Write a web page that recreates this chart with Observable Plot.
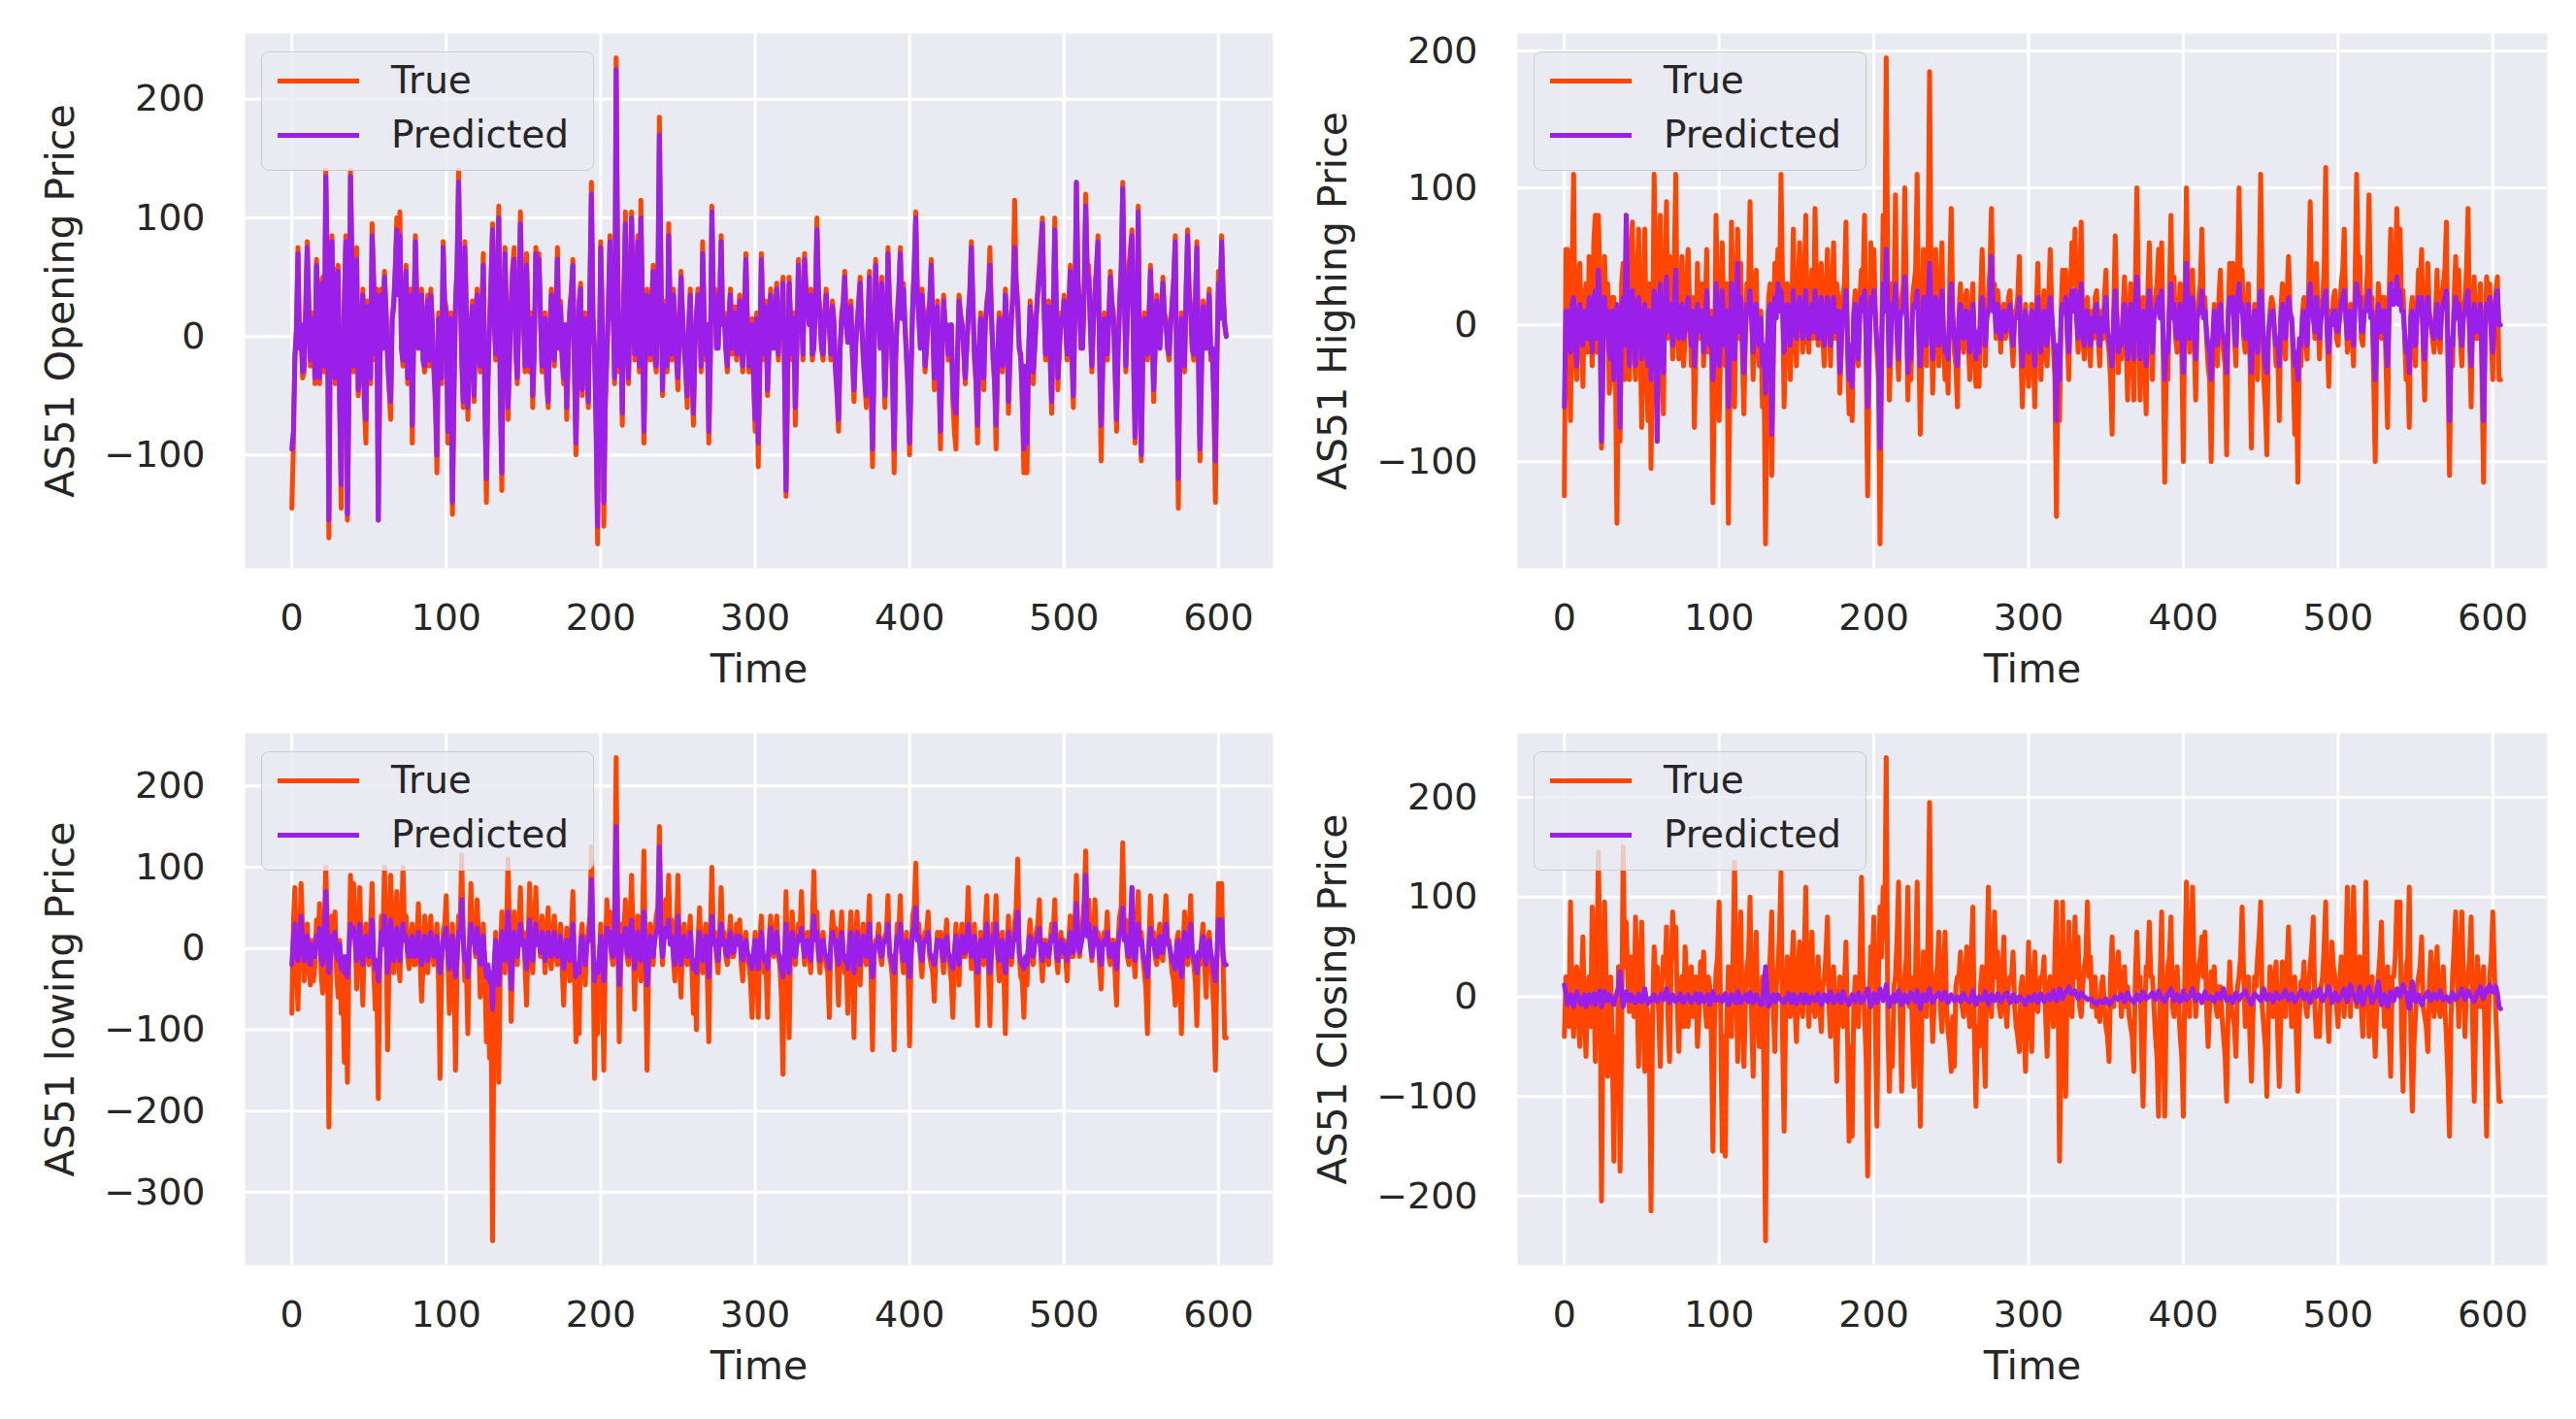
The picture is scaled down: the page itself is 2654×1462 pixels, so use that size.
<!DOCTYPE html>
<html>
<head>
<meta charset="utf-8">
<script src="https://cdn.jsdelivr.net/npm/d3@7"></script>
<script src="https://cdn.jsdelivr.net/npm/@observablehq/plot@0.6"></script>
<style>
  html, body { margin: 0; padding: 0; background: #ffffff; }
  #root { position: relative; width: 2654px; height: 1462px; overflow: hidden; font-family: "DejaVu Sans", sans-serif; }
  .panel { position: absolute; }
  .legend { position: absolute; box-sizing: border-box; width: 343px; height: 123px; border: 1.5px solid #cccccc; border-radius: 8px; background: rgba(234,234,242,0.8); }
  .legend .sw { position: absolute; left: 16px; width: 84px; height: 5px; }
  .legend .lt { position: absolute; left: 133px; font-size: 39px; line-height: 39px; color: #262626; white-space: nowrap; }
</style>
</head>
<body>
<div id="root"></div>
<script>
// ---------------- data ----------------
const TIME = d3.range(0, 606);            // time index 0..605
const X_TICKS = [0, 100, 200, 300, 400, 500, 600];
const SERIES_NAMES = ["True", "Predicted"];
const COLORS = ["#FF4500", "#9A1FE8"];

const OPEN_TRUE = [
-145,-95,-20,5,75,-10,10,-35,-30,25,80,30,-25,-15,20,-40,65,20,-40,45,
50,-30,140,60,-170,20,85,10,-40,55,60,-60,-145,-20,30,85,-155,-50,140,60,
-30,20,75,-50,-35,10,40,-60,-90,30,20,-40,95,50,-20,40,-155,-30,40,-10,
55,25,-20,-45,-70,15,30,60,100,40,105,-10,-25,30,60,-40,20,40,-90,10,
85,30,-10,20,40,-20,-30,15,35,-25,40,10,-30,-60,-115,20,10,-40,80,30,
25,-90,-40,20,-150,-50,30,60,140,45,-20,-60,80,25,-70,-20,10,30,-55,15,
40,-10,-30,20,70,-60,-140,-40,10,50,95,20,-20,30,110,-50,-130,10,75,20,
-70,-20,30,60,75,-10,-40,20,105,40,20,-30,70,10,-30,20,-60,-10,75,40,
70,20,-30,10,20,-40,-60,0,40,15,-25,20,75,-10,30,-20,-40,10,-70,-20,
25,40,65,-30,-100,-20,30,45,-50,-10,20,-30,-60,40,130,20,-10,-80,-175,-40,
80,20,-160,-60,-20,30,85,20,30,-40,235,60,-30,20,-75,40,105,10,-40,30,
105,20,-20,40,85,-30,115,30,-90,-10,40,10,-20,30,60,-20,-30,40,185,60,
-50,10,30,-30,95,20,-20,40,20,-20,-45,10,55,20,-10,-30,-60,10,40,-20,
-75,-10,20,40,30,-30,80,20,-20,10,-90,-20,110,30,40,-10,-10,30,85,10,
20,-10,-30,20,40,-15,10,25,-20,10,35,-10,-30,20,70,10,-30,-10,15,-40,
-80,20,-110,-30,70,20,-20,30,-50,-10,40,15,-10,25,45,-20,20,10,50,-30,
-135,-40,50,10,-20,20,-75,-10,65,30,20,-20,70,40,30,10,40,-20,-10,30,
100,40,20,-10,-20,20,40,10,10,-20,30,15,-30,-50,-80,-10,20,30,55,10,
-5,20,30,-20,-55,-10,10,30,50,10,-20,-40,-60,10,55,-30,-110,-20,65,30,
20,-10,50,10,-60,-10,75,30,10,-40,-115,-20,20,40,75,20,45,10,-20,-50,
-100,-30,30,60,105,40,15,-10,40,20,-30,-10,20,30,65,10,-45,-10,30,-30,
-95,-20,35,10,10,-20,-20,10,-55,-80,-95,-20,35,20,10,-10,-40,-10,20,40,
80,30,-20,-40,-90,-10,20,-10,-45,10,30,40,75,20,-20,-40,-95,-20,20,10,
-30,-10,40,10,-65,-20,20,40,115,50,30,-10,-20,-60,-115,-30,-115,-20,30,10,
-40,-10,20,40,60,80,100,30,-20,10,30,-20,-65,20,100,30,-45,-10,20,10,
35,10,-20,20,60,-10,-60,20,130,50,30,-10,-10,40,120,60,60,10,-30,10,
40,60,85,-20,-105,-30,20,-10,-20,20,55,30,20,-30,-80,-10,30,60,130,40,
-30,20,60,75,90,-20,-90,-10,110,-30,-105,-20,20,10,-20,20,60,10,-55,-10,
35,10,-10,20,50,20,15,-10,-20,10,30,50,85,-40,-145,-20,20,10,-30,40,
90,40,25,-10,-20,30,80,-20,-105,-30,30,10,-10,20,40,-20,-10,-60,-140,-20,
55,20,85,40,10,0];

const OPEN_PRED = [
-95,-80,-15,5,70,-10,10,-30,-25,20,75,25,-20,-15,15,-35,60,20,-35,40,
45,-25,135,55,-155,15,80,10,-35,50,55,-55,-125,-20,25,80,-150,-45,135,55,
-25,20,65,-45,-30,10,35,-55,-70,25,20,-35,85,45,-15,35,-155,-25,35,-10,
50,20,-15,-40,-55,15,25,55,90,35,85,-10,-20,25,55,-35,15,35,-75,10,
80,25,-10,15,35,-20,-25,15,30,-20,35,10,-25,-50,-100,15,10,-35,75,25,
20,-80,-35,15,-140,-45,25,55,130,40,-15,-55,75,20,-60,-15,10,25,-50,15,
35,-10,-25,15,60,-55,-120,-35,10,45,90,15,-15,25,100,-45,-115,10,70,15,
-60,-15,25,55,65,-10,-35,15,95,35,15,-25,60,10,-25,15,-50,-10,70,35,
65,15,-25,10,15,-35,-55,0,35,15,-20,15,65,-10,25,-15,-35,10,-60,-15,
20,35,60,-25,-90,-15,25,40,-45,-10,15,-25,-55,35,120,15,-10,-70,-160,-35,
75,15,-140,-50,-15,25,80,15,25,-35,225,55,-25,15,-65,35,95,10,-35,25,
100,15,-15,35,80,-25,100,25,-80,-10,35,10,-15,25,55,-15,-25,35,170,55,
-45,10,25,-25,85,15,-15,35,15,-15,-35,10,50,15,-10,-25,-50,10,35,-15,
-65,-10,15,35,25,-25,70,15,-15,10,-80,-15,105,25,35,-10,-10,25,80,10,
15,-10,-25,15,35,-10,10,20,-15,10,30,-10,-25,15,65,10,-25,-10,10,-35,
-70,15,-90,-25,65,15,-15,25,-45,-10,35,10,-10,20,40,-15,15,10,45,-25,
-130,-35,45,10,-15,15,-60,-10,60,25,15,-15,65,35,25,10,35,-15,-10,25,
90,35,15,-10,-15,15,35,10,10,-15,25,10,-25,-45,-70,-10,15,25,50,10,
-5,15,25,-15,-45,-10,10,25,45,10,-15,-35,-50,10,50,-25,-95,-15,60,25,
15,-10,45,10,-50,-10,70,25,10,-35,-95,-15,15,35,70,15,40,10,-15,-40,
-90,-25,25,55,100,35,15,-10,35,15,-25,-10,15,25,60,10,-35,-10,25,-25,
-80,-15,30,10,10,-15,-15,10,-45,-60,-65,-15,30,15,10,-10,-35,-10,15,35,
75,25,-15,-35,-75,-10,15,-10,-35,10,25,35,60,15,-15,-35,-75,-15,15,10,
-25,-10,35,10,-55,-15,15,35,75,40,25,-10,-15,-50,-95,-25,-90,-15,25,10,
-30,-10,15,35,50,70,95,25,-15,10,25,-15,-55,15,90,25,-35,-10,15,10,
30,10,-15,15,55,-10,-50,15,130,45,25,-10,-10,35,110,50,50,10,-25,10,
35,55,80,-15,-75,-25,15,-10,-15,15,50,25,15,-25,-70,-10,25,55,125,35,
-25,15,50,65,85,-15,-85,-10,105,-25,-100,-15,15,10,-15,15,55,10,-45,-10,
30,10,-10,15,45,15,10,-10,-15,10,25,45,80,-35,-120,-15,15,10,-25,35,
85,35,20,-10,-15,25,75,-15,-95,-25,25,10,-10,15,35,-15,-10,-50,-105,-15,
45,15,80,35,10,0];

const HIGH_TRUE = [
-125,55,55,-30,-70,40,110,-20,-40,30,45,-10,-45,20,30,-20,50,10,-30,60,
80,-20,80,30,-90,-30,50,10,30,-50,-40,20,20,-30,-145,-20,-85,30,45,-40,
80,20,-40,50,75,-20,-40,30,70,-10,-75,20,70,-30,-70,30,-105,-20,110,40,
-85,10,80,-20,-65,30,90,-10,50,20,-25,40,110,-10,-25,20,50,-30,-10,30,
55,10,-30,20,-75,-20,45,-10,20,30,-30,10,55,-20,-20,10,-130,-40,80,20,
-70,-20,60,10,-30,30,-145,-40,75,10,-60,20,70,-10,45,-20,-65,-10,30,20,
90,10,-40,20,40,-20,-30,10,-60,-30,-160,-40,20,30,-110,-30,45,10,55,20,
110,30,-60,-10,30,20,-40,10,70,-10,-30,20,60,10,-20,30,80,-10,-20,20,
40,-10,85,20,-15,30,45,-10,-30,20,55,10,-30,20,60,-10,30,20,-50,-20,
20,30,75,-20,-65,-30,-70,10,25,-20,-30,20,40,30,80,-20,-125,-30,60,20,
55,10,-20,-40,-160,-30,80,30,195,40,-55,-20,30,20,95,-10,-40,10,20,30,
100,20,-55,-10,-40,20,30,40,110,-10,-80,-20,55,10,-30,40,185,30,-50,-10,
55,10,-30,20,60,-10,-40,-20,-50,30,85,10,-20,-30,-60,10,30,-10,-20,20,
25,-10,-40,10,30,-20,-45,-10,-45,20,55,10,-30,10,20,40,85,20,30,-10,
25,10,-20,10,15,-10,-5,20,25,-10,-30,10,10,20,50,-20,-60,-10,15,-20,
-45,-10,15,-20,-60,10,45,-10,-40,10,25,-20,-30,20,55,10,-15,-40,-140,-30,
-70,10,40,20,40,-10,-40,20,60,30,70,10,-20,30,75,-10,-25,10,20,-10,
-30,10,-10,20,25,-10,-30,10,-10,20,40,-10,-20,-40,-80,10,65,10,-35,-10,
-25,10,35,-10,-55,10,30,-20,-55,30,100,20,-55,10,20,-30,-65,20,60,10,
-40,10,20,30,55,10,60,-20,-115,-30,-40,20,80,10,35,-10,-20,10,30,-20,
-100,20,100,30,-20,10,40,-10,-55,10,20,30,70,10,20,-10,-30,-40,-100,-20,
15,-10,-30,20,40,-10,-20,-30,-95,10,45,20,45,-10,-30,30,100,20,40,-10,
-20,10,30,-20,-90,-10,15,-10,-40,30,110,20,-40,-60,-95,-10,10,20,15,-10,
-30,-20,-70,10,30,-10,-25,20,50,10,5,-30,-80,-40,-115,-20,-30,10,20,-10,
-25,30,90,20,10,-10,45,10,-25,10,20,40,115,-10,-45,10,0,20,25,-10,
-15,10,30,40,70,10,-20,10,15,-10,-30,30,110,40,50,-10,-15,20,20,40,
95,10,20,-40,-100,-10,30,10,-10,20,20,-30,-75,20,70,30,30,40,85,30,
70,20,25,-10,-40,-30,-75,10,20,-10,-30,10,40,30,55,-20,-55,10,45,10,
0,-10,-20,10,40,-10,-20,20,30,40,75,-30,-110,-20,-30,20,50,10,40,-10,
-30,10,20,40,85,-10,-60,10,35,-10,-10,10,30,-40,-115,-10,35,20,30,-10,
-40,10,25,35,-40,-40];

const HIGH_PRED = [
-60,10,10,-15,-20,15,20,-10,-30,10,15,-5,-15,10,10,-10,20,5,-20,20,
25,-10,40,10,-85,-20,20,5,10,-20,-25,10,-40,-15,15,-10,-75,10,20,-15,
80,10,-30,20,25,-10,-30,15,20,-5,-25,10,15,-15,-30,10,-40,-10,25,15,
-85,5,30,-10,-35,10,35,-5,15,10,-15,15,40,-5,-10,10,15,-10,-5,10,
20,5,-15,10,-30,-10,15,-5,10,10,-20,5,25,-10,-15,5,-40,-20,30,10,
-30,-10,25,5,-15,10,-60,-20,30,5,-25,10,45,-5,20,-10,-35,-5,15,10,
25,5,-20,10,15,-10,-15,5,-30,-15,-50,-20,10,15,-80,-15,20,5,30,10,
25,10,-20,-5,15,10,-15,5,25,-5,-10,10,20,5,-10,10,25,-5,-10,10,
15,-5,25,10,-10,10,20,-5,-15,10,20,5,-15,10,20,-5,10,10,-35,-10,
10,10,25,-10,-40,-15,-45,5,15,-10,-25,10,20,10,25,-10,-60,-15,20,10,
25,5,-15,-20,-90,-15,30,10,55,15,-30,-10,15,10,30,-5,-25,5,10,10,
35,10,-35,-5,-25,10,15,15,25,-5,-30,-10,20,5,-15,15,45,10,-25,-5,
20,5,-15,10,25,-5,-20,-10,-25,10,30,5,-10,-15,-30,5,15,-5,-10,10,
10,-5,-20,5,15,-10,-25,-5,-20,10,20,5,-15,5,10,15,50,10,15,-5,
15,5,-10,5,10,-5,0,10,15,-5,-15,5,5,10,20,-10,-30,-5,10,-10,
-20,-5,10,-10,-30,5,20,-5,-20,5,10,-10,-15,10,20,5,-10,-20,-70,-15,
-40,5,15,10,20,-5,-20,10,25,10,25,5,-10,15,30,-5,-15,5,10,-5,
-15,5,-5,10,15,-5,-15,5,-5,10,20,-5,-10,-20,-30,5,25,5,-20,-5,
-15,5,15,-5,-25,5,15,-10,-25,15,35,10,-25,5,10,-15,-30,10,25,5,
-20,5,10,15,20,5,25,-10,-40,-15,-20,10,30,5,15,-5,-10,5,15,-10,
-35,10,45,15,-10,5,20,-5,-25,5,10,15,25,5,10,-5,-15,-20,-40,-10,
10,-5,-15,10,15,-5,-10,-15,-35,5,20,10,20,-5,-15,15,30,10,15,-5,
-10,5,15,-10,-35,-5,10,-5,-20,15,25,10,-20,-30,-35,-5,5,10,10,-5,
-15,-10,-30,5,15,-5,-10,10,20,5,5,-15,-30,-20,-40,-10,-15,5,10,-5,
-15,15,30,10,5,-5,20,5,-10,5,10,20,25,-5,-20,5,0,10,10,-5,
-5,5,15,20,25,5,-10,5,10,-5,-15,15,30,20,20,-5,-5,10,10,20,
25,5,10,-20,-40,-5,15,5,-5,10,10,-15,-30,10,30,15,15,20,35,15,
25,10,10,-5,-20,-15,-35,5,10,-5,-15,5,20,15,20,-10,-25,5,20,5,
0,-5,-10,5,15,-5,-10,10,15,20,25,-15,-70,-10,-15,10,20,5,15,-5,
-15,5,10,20,25,-5,-30,5,15,-5,-5,5,15,-20,-70,-5,15,10,20,-5,
-20,5,20,25,0,0];

const LOW_TRUE = [
-80,30,75,-20,-75,10,80,20,-40,-10,30,-20,-45,10,-40,-20,35,10,55,-30,
-55,20,100,30,-220,-40,40,10,45,-30,-60,10,-80,-30,-140,-20,-165,-10,90,30,
80,20,-50,10,75,-10,-70,20,30,-10,-20,30,80,-20,-75,-30,-185,-20,40,10,
100,30,-125,-20,90,20,-30,20,70,-10,-40,30,100,20,40,-10,-25,10,30,-20,
-20,10,55,-10,-65,-20,40,10,-30,20,40,-10,-20,10,30,-40,-160,-20,20,30,
65,-10,-80,-20,30,-30,-150,-20,40,30,115,20,-40,-20,-105,10,80,20,20,-10,
60,10,-60,-20,30,-30,-115,-40,-135,-60,-360,-40,20,-30,-165,-20,45,10,-30,20,
110,20,-90,-20,45,10,-20,20,75,10,20,-20,-70,10,80,-10,-30,20,75,10,
20,-10,40,10,-30,20,50,-10,-25,20,40,-10,-20,10,30,-20,-70,-10,25,10,
-40,20,70,-30,-115,-40,-105,10,30,-10,-45,10,20,40,125,10,-160,-40,-105,-20,
30,-30,-150,-10,60,20,45,-10,-20,40,235,30,-115,-20,30,20,60,-10,-20,30,
90,10,-75,20,40,-20,-40,30,120,-20,-150,-30,30,10,-20,20,40,50,150,30,
-20,20,60,30,90,10,35,-10,-40,20,90,-10,-60,10,30,-10,-20,10,40,-20,
-80,-30,-100,10,50,-10,-30,10,30,-30,-115,20,100,10,20,-10,-30,20,75,10,
20,-10,-20,10,40,-10,-10,10,30,10,35,-20,-40,10,20,-10,-20,-40,-85,-10,
20,-20,-85,10,40,-10,-30,-20,-85,10,40,10,-10,20,40,-10,-20,-60,-155,-20,
70,-20,-110,10,45,-10,-20,10,30,20,70,10,-20,10,20,-10,-30,30,95,20,
45,-10,-30,10,20,-10,-20,-30,-85,10,45,20,25,-20,-70,10,45,-10,-30,-20,
-80,10,45,-20,-110,10,45,-10,-45,10,30,-10,-20,20,65,-30,-125,-10,10,10,
30,-10,-20,10,15,20,65,-10,-20,-40,-125,-10,30,20,65,-10,-30,10,20,-30,
-120,-10,40,50,105,20,30,-10,-35,10,20,20,45,-10,-20,-30,-65,-10,20,10,
20,-10,-30,10,35,-10,-20,-40,-85,-10,30,-10,-45,10,30,-10,-10,20,75,10,
-25,10,30,-30,-95,-10,20,-10,-20,30,65,-20,-95,-10,30,20,65,-10,-40,10,
20,-30,-105,-10,40,-10,-20,10,30,50,110,-10,-35,-40,-85,-20,-45,10,35,-10,
-20,10,20,30,60,-10,-40,10,10,-10,-20,10,30,20,60,-10,-30,10,20,-10,
10,-10,-40,10,40,-10,-10,30,90,20,-10,10,30,60,120,30,60,10,-15,10,
60,10,20,-20,-50,10,20,10,45,-10,-20,10,10,-30,-70,10,40,50,130,20,
35,-10,-20,30,75,-10,-35,20,70,10,20,-10,-30,-50,-105,10,65,10,20,-10,
-20,10,30,-10,-15,30,65,10,10,-10,-30,-40,-70,10,20,-40,-105,-10,45,10,
-20,20,65,-10,-20,-40,-95,-10,-20,10,30,-20,-60,10,20,-10,-40,-80,-150,-20,
80,30,80,-20,-110,-110];

const LOW_PRED = [
-20,10,30,-10,-15,5,40,10,-15,-5,15,-10,-20,5,-10,-10,15,5,25,-15,
-20,10,70,15,-30,-15,15,5,20,-10,-15,5,-25,-10,-30,-10,-35,-5,30,15,
25,10,-15,5,30,-5,-20,10,15,-5,-10,15,35,-10,-25,-15,-40,-10,20,5,
40,15,-30,-10,35,10,-15,10,25,-5,-15,15,30,10,15,-5,-10,5,15,-10,
-10,5,20,-5,-20,-10,15,5,-15,10,20,-5,-10,5,15,-15,-30,-10,10,15,
25,-5,-25,-10,15,-15,-35,-10,20,15,60,10,-15,-10,-35,5,30,10,10,-5,
25,5,-20,-10,15,-15,-35,-20,-40,-30,-75,-20,10,-15,-45,-10,20,5,-15,10,
45,10,-50,-10,20,5,-10,10,30,5,10,-10,-25,5,35,-5,-15,10,30,5,
10,-5,20,5,-15,10,20,-5,-10,10,20,-5,-10,5,15,-10,-25,-5,10,5,
-15,10,30,-15,-35,-20,-30,5,15,-5,-20,5,10,20,85,5,-40,-20,-30,-10,
15,-15,-40,-5,25,10,20,-5,-10,20,150,15,-45,-10,15,10,25,-5,-10,15,
35,5,-25,10,20,-10,-15,15,45,-10,-45,-15,15,5,-10,10,20,25,125,15,
-10,10,25,15,35,5,15,-5,-20,10,40,-5,-20,5,15,-5,-10,5,20,-10,
-25,-15,-30,5,20,-5,-15,5,15,-15,-35,10,40,5,10,-5,-15,10,30,5,
10,-5,-10,5,20,-5,-5,5,15,5,15,-10,-15,5,10,-5,-10,-20,-25,-5,
10,-10,-25,5,20,-5,-15,-10,-25,5,25,5,-5,10,20,-5,-10,-25,-35,-10,
30,-10,-30,5,20,-5,-10,5,15,10,25,5,-10,5,10,-5,-15,15,40,10,
20,-5,-15,5,10,-5,-10,-15,-25,5,20,10,10,-10,-20,5,20,-5,-15,-10,
-25,5,20,-10,-30,5,20,-5,-20,5,15,-5,-10,10,30,-15,-35,-5,5,5,
15,-5,-10,5,10,10,30,-5,-10,-20,-30,-5,15,10,30,-5,-15,5,10,-15,
-35,-5,20,25,50,10,15,-5,-15,5,10,10,20,-5,-10,-15,-20,-5,10,5,
10,-5,-15,5,15,-5,-10,-20,-25,-5,15,-5,-20,5,15,-5,-5,10,30,5,
-10,5,15,-15,-30,-5,10,-5,-10,15,30,-10,-30,-5,15,10,30,-5,-15,5,
10,-15,-30,-5,20,-5,-10,5,15,25,45,-5,-15,-20,-25,-10,-20,5,15,-5,
-10,5,10,15,25,-5,-15,5,5,-5,-10,5,15,10,30,-5,-15,5,10,-5,
5,-5,-15,5,20,-5,-5,15,55,10,-5,5,15,40,90,15,30,5,-10,5,
25,5,10,-10,-20,5,10,5,20,-5,-10,5,5,-15,-25,5,20,25,50,10,
15,-5,-10,15,75,-5,-15,10,30,5,10,-5,-15,-25,-35,5,25,5,10,-5,
-10,5,15,-5,-5,15,30,5,5,-5,-15,-20,-25,5,10,-20,-35,-5,20,5,
-10,10,30,-5,-10,-20,-30,-5,-10,5,15,-10,-20,5,10,-5,-15,-30,-40,-10,
35,15,35,-10,-20,-20];

const CLOSE_TRUE = [
-40,20,10,-30,95,-10,-40,20,30,-20,-50,10,60,-20,-60,10,20,-30,90,20,
-65,30,145,40,-205,-30,95,20,-80,-20,20,-50,-165,-40,-105,30,-175,-40,150,30,
75,20,-15,40,30,-20,80,10,-70,30,75,-20,-75,-10,-20,-60,-215,-20,50,20,
30,-20,-70,10,40,20,70,-20,-65,30,85,40,70,-10,-55,10,20,-30,50,20,
-30,10,30,-20,-10,20,-50,-20,35,10,45,-10,-30,20,10,-40,-155,-30,25,40,
95,-20,-155,-40,-160,-20,30,-10,-40,40,135,20,-65,20,85,-20,-70,-10,30,40,
100,-20,-80,10,65,-20,-50,-10,20,-80,-245,-30,20,40,85,-10,-55,10,30,60,
125,-40,-135,-20,40,10,-20,30,65,-10,-45,20,55,-10,-20,40,110,10,-30,20,
65,-10,-20,10,40,-10,-35,10,20,40,80,-10,-40,10,30,-20,-85,-10,20,10,
-30,10,55,-40,-145,-50,-140,-10,20,-20,-30,30,120,20,-20,-60,-180,-20,50,30,
80,-30,-130,20,90,40,110,60,240,-20,-95,-40,-70,10,20,60,115,-20,-95,-10,
20,40,110,-10,20,-40,-90,30,115,-30,-130,-20,45,10,-20,60,195,20,-45,-10,
20,30,65,-10,-35,20,65,-10,-35,-50,-75,-20,-70,10,20,20,45,-10,-20,20,
50,-10,-30,40,90,-40,-110,-30,-50,10,30,-40,-90,30,110,10,-20,30,85,20,
45,-10,-20,20,60,-10,-30,10,20,20,45,-10,-30,-40,-55,10,20,-30,-75,-10,
55,-20,-55,10,45,-10,-15,10,20,20,40,-20,-60,10,20,-10,-30,40,95,20,
-165,-60,95,-30,-100,20,75,-10,-20,30,80,20,60,-10,-20,10,30,40,95,20,
40,-10,-10,20,-20,-10,-25,10,20,-10,-30,-40,-65,20,60,-10,10,20,45,10,
-20,10,30,-10,10,-20,-30,-40,-75,20,65,10,20,-50,-110,-20,30,30,75,20,
20,-10,-40,-60,-120,20,85,-40,-120,-10,30,40,80,-10,-20,10,30,-10,-40,-60,
-120,30,115,40,-20,50,110,20,-20,10,30,40,60,20,65,-10,-50,-10,25,10,
30,-10,-20,10,10,-20,-40,-60,-105,-10,35,-10,-20,-30,-60,10,20,40,90,20,
-30,10,20,-40,-85,-20,20,10,40,60,95,-10,-30,-50,-100,-20,30,10,-20,20,
35,-40,-90,-20,35,10,-20,30,70,10,-30,-10,20,-40,-95,-20,15,10,35,-10,
-20,10,30,50,80,-10,-40,-20,-40,10,20,50,95,-10,-45,10,55,30,20,-10,
-30,10,40,10,-20,40,110,20,-20,40,110,30,-10,10,40,-10,-40,30,115,20,
-40,10,20,-20,-60,-10,20,40,75,10,-30,10,30,-30,-80,20,20,40,95,60,
95,-30,-95,-10,30,40,110,-40,-115,-50,-20,10,20,30,60,-10,-20,-30,-55,10,
45,10,-20,20,50,-10,-20,10,30,-10,-40,-80,-140,-20,20,50,85,20,-30,30,
85,20,-40,10,20,40,80,-30,-105,-20,40,10,-10,10,30,-50,-140,-40,20,40,
85,30,-20,-60,-105,-105];

const CLOSE_PRED = [
12,4,-8,-3,2,-5,-10,-2,5,0,-5,-8,-3,2,-10,-4,2,-6,-6,3,
-8,-2,3,6,-10,-4,5,0,-4,2,-2,-6,-8,0,4,10,25,5,-10,-3,
5,0,-4,2,0,-5,-6,-2,3,-4,-5,0,8,-3,-7,-2,-4,0,2,-3,
-5,-2,0,3,-3,0,8,2,-6,-3,2,-1,-5,-2,0,3,-4,-6,-2,0,
2,-3,-6,-2,0,3,-4,-6,3,0,-5,-2,0,2,-8,-3,5,0,-4,-2,
0,-3,-5,0,3,-2,-8,-4,2,0,-4,-6,5,1,-6,-3,0,2,-3,-5,
4,0,-6,-2,2,-3,-5,-8,-8,10,30,5,-10,-4,0,2,-5,-3,2,-2,
-3,-5,-6,-2,0,3,-4,-6,2,0,-7,-3,0,2,-5,-6,2,0,-6,-2,
0,-2,-4,0,3,-3,-8,-4,2,0,-5,-2,5,1,-6,-3,0,2,-4,-6,
5,0,-3,-5,-8,-2,2,0,-5,-1,4,0,-6,-3,0,4,8,-3,-10,-4,
3,0,-6,0,8,3,-4,2,12,0,-10,-4,0,2,-5,-2,6,0,-8,-4,
2,-2,-6,0,4,1,-3,-5,6,0,-12,-4,2,0,-4,3,8,0,-6,-2,
0,2,4,0,-3,0,5,-2,-6,-2,2,-1,-4,-3,0,-2,-5,0,3,-2,
-2,-4,-5,0,6,-2,-8,-3,0,-1,-3,0,5,-2,-8,-3,2,0,-4,-2,
3,-1,-5,-2,0,2,4,-1,-6,-2,2,0,-5,-3,0,-1,-3,-5,-8,-4,
0,-2,-4,0,2,-2,-6,-1,3,0,-5,-2,0,2,-3,0,6,1,-4,-1,
8,4,-2,2,5,6,10,4,3,5,6,2,-2,1,4,2,0,-1,-3,-2,
-2,-4,-5,-6,-8,-5,-4,-5,-6,-4,-2,-5,-8,-6,-4,-2,0,-1,-3,-1,
2,-1,-5,0,4,0,-3,-4,-6,-2,2,-1,-4,0,5,1,-2,-1,0,2,
4,0,-3,1,6,2,-2,-3,-5,-1,3,2,8,2,-4,-1,2,-1,-5,-2,
6,1,-3,-1,0,3,8,2,-4,-1,2,0,-6,-1,5,1,-2,-1,0,-3,
-5,-1,3,0,-2,3,8,1,-4,-2,0,-3,-6,0,4,0,-3,0,2,3,
6,2,-2,-5,-8,-2,3,1,0,-2,-4,2,8,2,-3,-1,2,0,-5,-1,
4,1,-2,-1,0,3,6,0,-3,0,3,-1,-5,-2,0,3,6,2,-2,0,
3,-2,-6,0,5,2,0,4,8,1,-4,-1,2,5,10,2,-6,-1,4,0,
-4,-2,0,4,8,1,-5,3,12,5,2,-2,-6,2,10,1,-8,-2,4,6,
10,2,-6,-3,0,6,15,3,-8,-2,2,-4,-10,-2,5,0,-4,2,8,4,
0,5,12,6,4,-4,-12,2,15,3,-5,-1,2,-3,-8,-3,0,2,5,0,
-4,0,3,0,-2,2,6,1,-3,-1,0,-2,-5,0,4,0,-3,-1,2,4,
8,2,-3,1,6,3,0,-2,-5,0,5,4,10,3,-2,3,8,5,12,6,
5,8,10,3,-10,-12];

const PANELS = [
  {label: "AS51 Opening Price", t: OPEN_TRUE,  p: OPEN_PRED,  yTicks: [-100, 0, 100, 200]},
  {label: "AS51 Highing Price", t: HIGH_TRUE,  p: HIGH_PRED,  yTicks: [-100, 0, 100, 200]},
  {label: "AS51 lowing Price",  t: LOW_TRUE,   p: LOW_PRED,   yTicks: [-300, -200, -100, 0, 100, 200]},
  {label: "AS51 Closing Price", t: CLOSE_TRUE, p: CLOSE_PRED, yTicks: [-200, -100, 0, 100, 200]}
];

// ---------------- layout ----------------
const root = document.getElementById("root");
const W = 1327, H = 731;
const LAYOUT = [
  {left: 0,    top: 0,   ml: 252, mr: 16, mt: 34, mb: 146},
  {left: 1327, top: 0,   ml: 236, mr: 30, mt: 34, mb: 146},
  {left: 0,    top: 731, ml: 252, mr: 16, mt: 24, mb: 159},
  {left: 1327, top: 731, ml: 236, mr: 30, mt: 24, mb: 159}
];

function pad(ext) { const d = (ext[1] - ext[0]) * 0.05; return [ext[0] - d, ext[1] + d]; }

PANELS.forEach((P, k) => {
  const L = LAYOUT[k];
  const rows = [];
  TIME.forEach((x, i) => {
    if (P.t[i] !== undefined) rows.push({x, v: P.t[i], s: SERIES_NAMES[0]});
  });
  const rowsP = [];
  TIME.forEach((x, i) => {
    if (P.p[i] !== undefined) rowsP.push({x, v: P.p[i], s: SERIES_NAMES[1]});
  });
  const yDom = pad(d3.extent(P.t.concat(P.p)));
  const xDom = pad(d3.extent(TIME));

  const chart = Plot.plot({
    width: W, height: H,
    marginLeft: L.ml, marginRight: L.mr, marginTop: L.mt, marginBottom: L.mb,
    style: {fontFamily: "DejaVu Sans, sans-serif", fontSize: "38px", color: "#262626", background: "transparent", overflow: "visible"},
    x: {domain: xDom, ticks: X_TICKS, tickSize: 0, tickPadding: 37, label: null, tickFormat: d => d3.format("d")(d)},
    y: {domain: yDom, ticks: P.yTicks, tickSize: 0, tickPadding: 41, label: null, tickFormat: d => (d < 0 ? "\u2212" + Math.abs(d) : String(d))},
    marks: [
      Plot.frame({fill: "#EAEAF2", stroke: "none"}),
      Plot.ruleX(X_TICKS, {stroke: "#ffffff", strokeWidth: 3}),
      Plot.ruleY(P.yTicks, {stroke: "#ffffff", strokeWidth: 3}),
      Plot.line(rows,  {x: "x", y: "v", stroke: COLORS[0], strokeWidth: 5, strokeLinejoin: "round"}),
      Plot.line(rowsP, {x: "x", y: "v", stroke: COLORS[1], strokeWidth: 5, strokeLinejoin: "round"}),
      Plot.text([P.label], {text: d => d, frameAnchor: "left", textAnchor: "middle", lineAnchor: "middle", dx: -190, rotate: -90, fontSize: 41, fill: "#262626"}),
      Plot.text(["Time"], {text: d => d, frameAnchor: "bottom", textAnchor: "middle", lineAnchor: "middle", dy: 104, fontSize: 41, fill: "#262626"})
    ]
  });
  const wrap = document.createElement("div");
  wrap.className = "panel";
  wrap.style.left = L.left + "px";
  wrap.style.top = L.top + "px";
  wrap.style.width = W + "px";
  wrap.style.height = H + "px";
  wrap.appendChild(chart);
  root.appendChild(wrap);

  // legend (matplotlib style, upper left)
  const lg = document.createElement("div");
  lg.className = "legend";
  lg.style.left = (L.left + L.ml + 17) + "px";
  lg.style.top = (L.top + L.mt + 19) + "px";
  SERIES_NAMES.forEach((name, j) => {
    const cy = 29 + j * 56;
    const sw = document.createElement("div");
    sw.className = "sw";
    sw.style.top = (cy - 2.5) + "px";
    sw.style.background = COLORS[j];
    lg.appendChild(sw);
    const tx = document.createElement("div");
    tx.className = "lt";
    tx.style.top = (cy - 20) + "px";
    tx.textContent = name;
    lg.appendChild(tx);
  });
  root.appendChild(lg);
});
</script>
</body>
</html>
